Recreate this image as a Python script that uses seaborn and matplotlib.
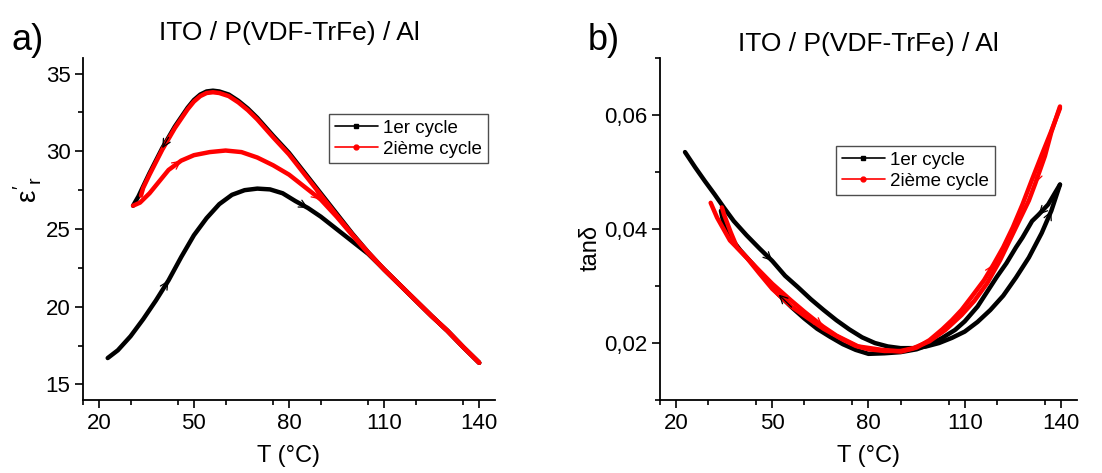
import matplotlib
matplotlib.use("Agg")
import matplotlib.pyplot as plt
from matplotlib.lines import Line2D
from matplotlib.ticker import MultipleLocator, FuncFormatter
import seaborn as sns

# ---- panel a) : relative permittivity vs temperature ----
eps_c1_heat_T = [22.8, 26, 30, 34, 38, 42, 46, 50, 54, 58, 62, 66, 70, 74, 78, 82, 86, 90, 95,
                 100, 105, 110, 115, 120, 125, 130, 135, 140]
eps_c1_heat_v = [16.7, 17.2, 18.1, 19.2, 20.4, 21.7, 23.2, 24.6, 25.7, 26.6, 27.2, 27.5, 27.6, 27.55,
                 27.3, 26.8, 26.35, 25.8, 25.0, 24.2, 23.4, 22.4, 21.4, 20.4, 19.4, 18.45, 17.4, 16.4]
eps_c1_cool_T = [140, 135, 130, 125, 120, 115, 110, 105, 100, 95, 90, 85, 80, 75, 70, 67, 64, 61,
                 58, 56, 54, 52, 50, 48, 46, 44, 42, 40, 38, 36, 34, 32.5, 30.8]
eps_c1_cool_v = [16.4, 17.4, 18.45, 19.4, 20.4, 21.4, 22.4, 23.5, 24.7, 26.0, 27.3, 28.6, 29.9, 31.0,
                 32.15, 32.75, 33.25, 33.65, 33.85, 33.9, 33.85, 33.65, 33.3, 32.8, 32.2, 31.6, 30.9,
                 30.2, 29.4, 28.6, 27.75, 27.1, 26.5]
eps_c2_heat_T = [30.8, 33, 36, 38, 42, 46, 50, 55, 60, 65, 70, 75, 80, 85, 90, 95, 100, 105, 110,
                 115, 120, 125, 130, 135, 140]
eps_c2_heat_v = [26.5, 26.7, 27.3, 27.8, 28.8, 29.4, 29.75, 29.95, 30.05, 29.95, 29.6, 29.1, 28.5,
                 27.7, 26.9, 25.8, 24.6, 23.45, 22.4, 21.4, 20.4, 19.4, 18.45, 17.4, 16.4]
eps_c2_cool_T = [140, 135, 130, 125, 120, 115, 110, 105, 100, 95, 90, 85, 80, 75, 70, 67, 64, 61,
                 58, 56, 54, 52, 50, 48, 46, 44, 42, 40, 38, 36, 34, 33.3]
eps_c2_cool_v = [16.4, 17.4, 18.45, 19.4, 20.4, 21.4, 22.4, 23.5, 24.65, 25.9, 27.2, 28.5, 29.8, 30.9,
                 32.05, 32.65, 33.15, 33.55, 33.75, 33.8, 33.75, 33.55, 33.2, 32.7, 32.1, 31.5, 30.8,
                 30.1, 29.3, 28.5, 27.65, 27.15]

# ---- panel b) : loss tangent vs temperature ----
tan_c1_heat_T = [22.8, 26, 29, 32, 35, 38, 42, 46, 50, 54, 58, 62, 66, 70, 74, 78, 82, 86, 90, 94,
                 98, 102, 106, 110, 114, 118, 122, 126, 130, 134, 137, 139.7]
tan_c1_heat_v = [0.0535, 0.0508, 0.0484, 0.0461, 0.0437, 0.0414, 0.0389, 0.0366, 0.0344, 0.0318,
                 0.0298, 0.0277, 0.0258, 0.0240, 0.0224, 0.0210, 0.0200, 0.0194, 0.0191, 0.0191,
                 0.0194, 0.0200, 0.0209, 0.0220, 0.0237, 0.0258, 0.0283, 0.0315, 0.0350, 0.0393,
                 0.0432, 0.0478]
tan_c1_cool_T = [139.7, 138, 136, 133, 131, 128, 126, 123, 120, 117, 114, 110, 107, 103, 99, 95, 90,
                 85, 80, 76, 72, 68, 64, 60, 56, 52, 48, 44, 40, 37, 35, 34]
tan_c1_cool_v = [0.0478, 0.0462, 0.0443, 0.0425, 0.0414, 0.0385, 0.0368, 0.0340, 0.0316, 0.0290,
                 0.0264, 0.0238, 0.0223, 0.0209, 0.0197, 0.0189, 0.0184, 0.0182, 0.0181, 0.0188,
                 0.0198, 0.0211, 0.0225, 0.0243, 0.0263, 0.0285, 0.0311, 0.0338, 0.0363, 0.0385,
                 0.0405, 0.0432]
tan_c2_heat_T = [30.8, 32.8, 36.8, 40.8, 45.8, 50, 55.8, 60, 65.8, 70, 76.8, 84.2, 90.2, 95, 99, 103,
                 106, 109, 112, 116, 119, 122, 125, 128, 131, 134, 137, 139.7]
tan_c2_heat_v = [0.0446, 0.0420, 0.0380, 0.0357, 0.0328, 0.0304, 0.0275, 0.0255, 0.0229, 0.0213,
                 0.0194, 0.0188, 0.0185, 0.0192, 0.0205, 0.0224, 0.0240, 0.0258, 0.0280, 0.0310,
                 0.0338, 0.0368, 0.0403, 0.0443, 0.0487, 0.0530, 0.0572, 0.0612]
tan_c2_cool_T = [139.7, 137, 135, 132, 130, 127, 124, 121, 117, 113, 109, 104, 99, 94, 90, 85, 80,
                 76, 72, 66, 60, 56, 50, 46, 42, 39, 37, 35, 34.3]
tan_c2_cool_v = [0.0615, 0.0570, 0.0528, 0.0480, 0.0450, 0.0415, 0.0380, 0.0345, 0.0305, 0.0274,
                 0.0249, 0.0223, 0.0203, 0.0191, 0.0186, 0.0186, 0.0189, 0.0195, 0.0206, 0.0225,
                 0.0248, 0.0264, 0.0295, 0.0322, 0.0350, 0.0368, 0.0395, 0.0425, 0.0438]

legend_labels = ["1er cycle", "2ième cycle"]
title = "ITO / P(VDF-TrFe) / Al"
c1_color = "black"
c2_color = "#ff0000"

sns.set_style("ticks")
plt.rcParams["font.family"] = ["Liberation Sans", "DejaVu Sans"]
plt.rcParams["mathtext.fontset"] = "custom"
plt.rcParams["mathtext.rm"] = "Liberation Sans"
plt.rcParams["mathtext.it"] = "Liberation Sans"
plt.rcParams["text.color"] = "black"
plt.rcParams["axes.labelcolor"] = "black"
plt.rcParams["xtick.color"] = "black"
plt.rcParams["ytick.color"] = "black"

fig = plt.figure(figsize=(11.02, 4.73), dpi=100)
ax_a = fig.add_axes([0.0753, 0.1543, 0.3739, 0.7230])
ax_b = fig.add_axes([0.5989, 0.1543, 0.3784, 0.7230])


def branch(ax, T, v, color):
    sns.lineplot(x=T, y=v, sort=False, estimator=None, color=color, linewidth=3.2, ax=ax,
                 solid_joinstyle="round", solid_capstyle="round")


def arrow(ax, T, v, i, color):
    # small open arrowhead along the curve, direction taken from the data order
    ax.annotate("", xy=(T[i + 1], v[i + 1]), xytext=(T[i], v[i]),
                arrowprops=dict(arrowstyle="->", color=color, lw=0.9, mutation_scale=14,
                                shrinkA=0, shrinkB=0))


# panel a
branch(ax_a, eps_c1_heat_T, eps_c1_heat_v, c1_color)
branch(ax_a, eps_c1_cool_T, eps_c1_cool_v, c1_color)
branch(ax_a, eps_c2_heat_T, eps_c2_heat_v, c2_color)
branch(ax_a, eps_c2_cool_T, eps_c2_cool_v, c2_color)
arrow(ax_a, eps_c1_heat_T, eps_c1_heat_v, 4, c1_color)
arrow(ax_a, eps_c1_heat_T, eps_c1_heat_v, 15, c1_color)
arrow(ax_a, eps_c1_cool_T, eps_c1_cool_v, 26, c1_color)
arrow(ax_a, eps_c2_heat_T, eps_c2_heat_v, 4, c2_color)
arrow(ax_a, eps_c2_heat_T, eps_c2_heat_v, 13, c2_color)

# panel b
branch(ax_b, tan_c1_heat_T, tan_c1_heat_v, c1_color)
branch(ax_b, tan_c1_cool_T, tan_c1_cool_v, c1_color)
branch(ax_b, tan_c2_heat_T, tan_c2_heat_v, c2_color)
branch(ax_b, tan_c2_cool_T, tan_c2_cool_v, c2_color)
arrow(ax_b, tan_c1_heat_T, tan_c1_heat_v, 7, c1_color)
arrow(ax_b, tan_c1_cool_T, tan_c1_cool_v, 24, c1_color)
arrow(ax_b, tan_c1_heat_T, tan_c1_heat_v, 29, c1_color)
arrow(ax_b, tan_c1_cool_T, tan_c1_cool_v, 2, c1_color)
arrow(ax_b, tan_c2_heat_T, tan_c2_heat_v, 19, c2_color)
arrow(ax_b, tan_c2_cool_T, tan_c2_cool_v, 2, c2_color)
arrow(ax_b, tan_c2_heat_T, tan_c2_heat_v, 7, c2_color)

for ax in (ax_a, ax_b):
    sns.despine(ax=ax)
    ax.set_xlim(15, 145)
    ax.set_xticks([20, 50, 80, 110, 140])
    ax.xaxis.set_minor_locator(MultipleLocator(15))
    for s in ("left", "bottom"):
        ax.spines[s].set_linewidth(1.3)
        ax.spines[s].set_color("black")
    ax.tick_params(which="major", direction="out", length=6, width=1.2, labelsize=16, pad=3)
    ax.tick_params(which="minor", direction="out", length=3.5, width=1.2)
    ax.set_xlabel("T (°C)", fontsize=17, labelpad=8)

ax_a.set_ylim(14, 36)
ax_a.yaxis.set_major_locator(MultipleLocator(5))
ax_a.yaxis.set_minor_locator(MultipleLocator(2.5))
ax_a.set_ylabel("")
ax_b.set_ylim(0.01, 0.07)
ax_b.set_yticks([0.02, 0.04, 0.06])
ax_b.yaxis.set_minor_locator(MultipleLocator(0.01))
ax_b.yaxis.set_major_formatter(FuncFormatter(lambda v, p: f"{v:.2f}".replace(".", ",")))
ax_b.set_ylabel("")

ax_a.set_title(title, fontsize=19, pad=13)
ax_b.set_title(title, fontsize=19, pad=5)

fig.text(0.025, 0.598, r"$\varepsilon'_r$", rotation=90, fontsize=20, ha="center", va="center")
fig.text(0.536, 0.476, "tanδ", rotation=90, fontsize=17, ha="center", va="center")
fig.text(0.025, 0.915, "a)", fontsize=26, ha="center", va="center")
fig.text(0.548, 0.915, "b)", fontsize=26, ha="center", va="center")

handles = [Line2D([], [], color=c1_color, lw=1.2, marker="s", markersize=3.5),
           Line2D([], [], color=c2_color, lw=1.2, marker="o", markersize=3.5)]
for ax, anchor in ((ax_a, (0.597, 0.836)), (ax_b, (0.422, 0.743))):
    leg = ax.legend(handles, legend_labels, loc="upper left", bbox_to_anchor=anchor,
                    borderaxespad=0, fontsize=13.5, frameon=True, fancybox=False,
                    handlelength=2.3, handletextpad=0.3, borderpad=0.3, labelspacing=0.2,
                    numpoints=1)
    leg.get_frame().set_edgecolor("#222222")
    leg.get_frame().set_linewidth(1.0)

fig.savefig("out.png", dpi=100)
